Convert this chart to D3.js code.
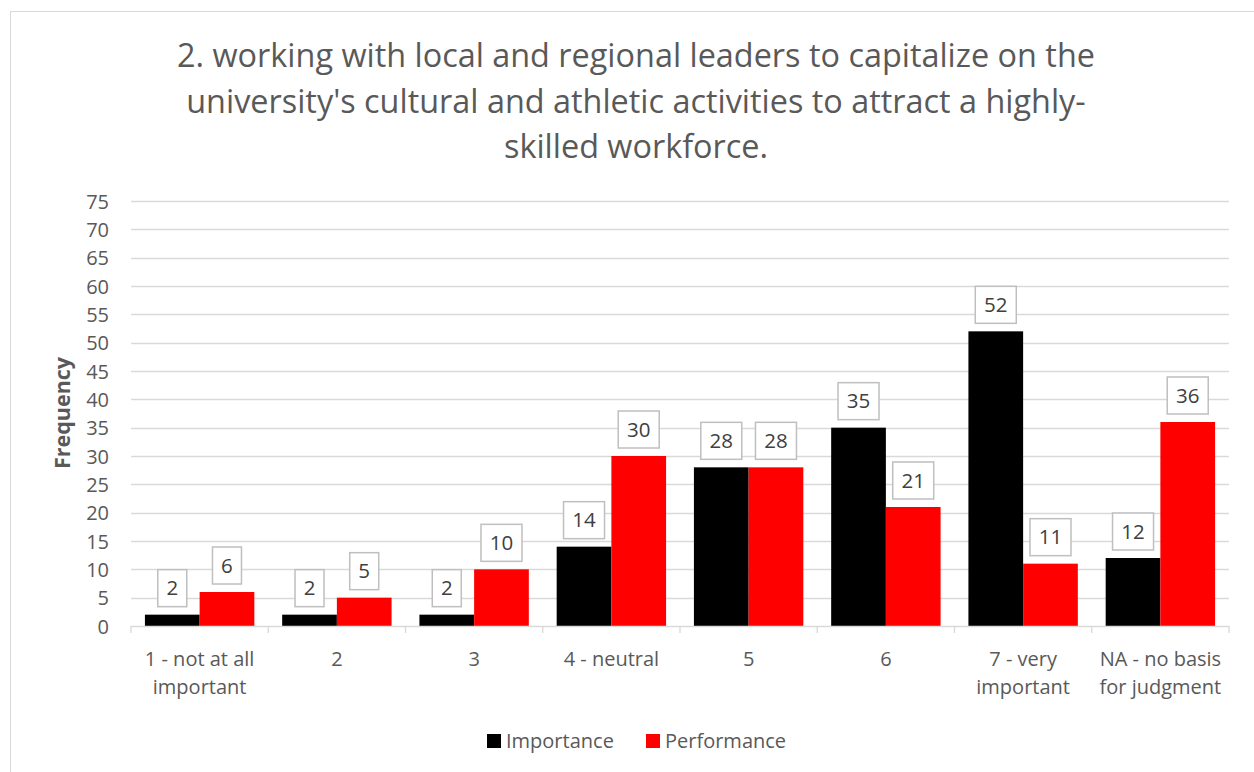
<!DOCTYPE html>
<html><head><meta charset="utf-8">
<script src="https://cdn.jsdelivr.net/npm/d3@7"></script>
<style>
body{margin:0;background:#fff;}
text{font-family:"Open Sans",sans-serif;}
</style></head>
<body>
<svg id="c" width="1254" height="772"></svg>
<script>
const categories = [["1 - not at all","important"],["2"],["3"],["4 - neutral"],["5"],["6"],["7 - very","important"],["NA - no basis","for judgment"]];
const importance = [2,2,2,14,28,35,52,12];
const performance = [6,5,10,30,28,21,11,36];
const seriesNames = ["Importance","Performance"];
const seriesColors = ["#000000","#ff0000"];
const yTicks = d3.range(0,80,5);
const titleLines = ["2. working with local and regional leaders to capitalize on the","university's cultural and athletic activities to attract a highly-","skilled workforce."];

(function(){
const svg = d3.select("#c");
svg.append("rect").attr("x",10.5).attr("y",11.5).attr("width",1250).attr("height",770).attr("fill","#fff").attr("stroke","#d9d9d9");

const pL=131, pR=1229, pT=201, pB=626;
const x = d3.scaleBand().domain(d3.range(categories.length)).range([pL,pR]).paddingInner(0).paddingOuter(0);
const x1 = d3.scaleBand().domain([0,1]).range([0,x.bandwidth()]).paddingOuter(0.2545).paddingInner(0);
const y = d3.scaleLinear().domain([0,75]).range([pB,pT]);

// title
const tt = svg.append("text").attr("text-anchor","middle").attr("fill","#595959").attr("font-size",32.4);
titleLines.forEach((l,i)=>tt.append("tspan").attr("x",636).attr("y",67+i*45.5).text(l));

// gridlines
svg.append("g").selectAll("line").data(yTicks.filter(d=>d>0)).join("line")
  .attr("x1",pL).attr("x2",pR).attr("y1",d=>Math.round(y(d))+0.5).attr("y2",d=>Math.round(y(d))+0.5)
  .attr("stroke","#d9d9d9").attr("stroke-width",1.3);

// y axis labels
const ya = svg.append("g").attr("transform",`translate(${pL-22},0)`)
  .call(d3.axisLeft(y).tickValues(yTicks).tickSize(0).tickPadding(0));
ya.select(".domain").remove();
ya.selectAll("text").attr("font-size",20).attr("fill","#595959").attr("font-family","Open Sans").attr("dy","0.35em");

svg.append("text").attr("transform",`translate(70,413) rotate(-90)`).attr("text-anchor","middle")
  .attr("font-size",21.5).attr("font-weight","bold").attr("fill","#595959").text("Frequency");

// bars
const data = categories.map((c,i)=>[importance[i],performance[i]]);
const groups = svg.append("g").selectAll("g").data(data).join("g").attr("transform",(d,i)=>`translate(${x(i)},0)`);
groups.selectAll("rect").data(d=>d).join("rect")
  .attr("x",(d,j)=>x1(j)).attr("width",x1.bandwidth())
  .attr("y",d=>y(d)).attr("height",d=>y(0)-y(d)).attr("fill",(d,j)=>seriesColors[j]);

// x axis line & ticks
svg.append("line").attr("x1",pL).attr("x2",pR).attr("y1",pB+0.5).attr("y2",pB+0.5).attr("stroke","#d9d9d9").attr("stroke-width",1.3);
svg.append("g").selectAll("line").data(d3.range(categories.length+1)).join("line")
  .attr("x1",i=>pL+i*x.bandwidth()).attr("x2",i=>pL+i*x.bandwidth())
  .attr("y1",pB).attr("y2",pB+7).attr("stroke","#d9d9d9").attr("stroke-width",1.3);

// x labels
const xl = svg.append("g").selectAll("text").data(categories).join("text")
  .attr("text-anchor","middle").attr("font-size",20).attr("fill","#595959");
xl.each(function(c,i){
  const t=d3.select(this);
  c.forEach((l,k)=>t.append("tspan").attr("x",x(i)+x.bandwidth()/2).attr("y",666+k*28).text(l));
});

// data labels
groups.each(function(d){
  const g=d3.select(this);
  d.forEach((v,j)=>{
    const cx = x1(j)+x1.bandwidth()/2;
    const w = String(v).length>1?41:29;
    const by = y(v)-8;
    g.append("rect").attr("x",cx-w/2).attr("y",by-37).attr("width",w).attr("height",37)
      .attr("fill","#fff").attr("stroke","#bfbfbf").attr("stroke-width",1.5);
    g.append("text").attr("x",cx).attr("y",by-18.5).attr("dy","0.35em").attr("text-anchor","middle")
      .attr("font-size",20.5).attr("fill","#404040").text(v);
  });
});

// legend
const leg = svg.append("g");
const legX=[487,646];
seriesNames.forEach((n,i)=>{
  leg.append("rect").attr("x",legX[i]).attr("y",734).attr("width",14).attr("height",14).attr("fill",seriesColors[i]);
  leg.append("text").attr("x",legX[i]+19).attr("y",741).attr("dy","0.35em").attr("font-size",20).attr("fill","#595959").text(n);
});
})();
</script>
</body></html>
